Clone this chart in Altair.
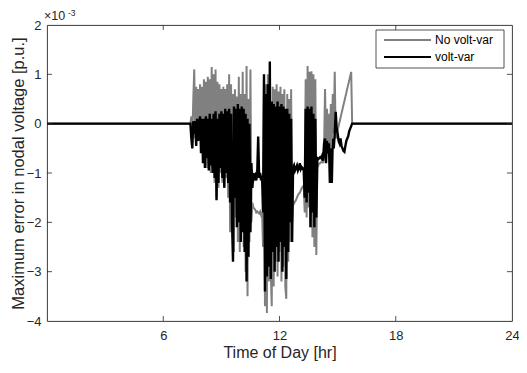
import altair as alt
import pandas as pd

# sampling grid of the active (daytime) period, hours
t_start = 7.40
t_step = 0.05

# Maximum error in nodal voltage, units of 1e-3 p.u. (None = no sample)
no_volt_var = [
    0.0, 0.15, -0.3, 0.5, 1.1,
    -0.3, 0.75, -0.2, 0.7, -0.3,
    0.8, -0.4, 0.75, -0.5, 0.9,
    -0.7, 0.85, -0.9, 0.95, -0.8,
    0.9, -1.0, 1.15, -0.9, 1.0,
    -1.2, 1.1, -1.5, 0.85, -1.3,
    0.8, -1.0, 0.7, -1.2, 0.75,
    -1.3, 0.7, -1.1, 0.8, -1.5,
    1.0, -2.2, 0.8, -2.0, 0.6,
    -2.6, 0.7, -1.9, 0.55, -2.4,
    0.95, -2.6, 0.6, -2.2, 1.05,
    -2.5, 0.6, -3.0, 1.17, -3.5,
    0.5, -2.4, 1.1, -2.0, -1.6,
    -1.7, -1.72, -1.75, -1.8, -1.78,
    -1.8, -1.82, -1.78, -1.85, -1.8,
    -2.5, 0.9, -3.7, 0.8, -3.84,
    1.0, -3.2, 0.8, -3.0, -3.7,
    0.75, -3.3, 0.7, -2.8, 0.8,
    -3.1, 0.65, -2.6, 0.75, -3.2,
    0.6, -2.9, 0.7, -3.3, -3.55,
    0.6, -2.8, 0.5, -2.4, 0.7,
    -2.0, -1.6, -1.62, -1.58, -1.55,
    -1.5, -1.45, -1.42, -1.4, -1.35,
    -1.3, -1.28, -1.25, -1.8, 0.9,
    -1.9, 1.17, -1.7, 1.05, -2.1,
    1.06, -2.3, 1.0, -2.5, 0.9,
    -2.66, -0.9, -0.85, -0.8, -0.8,
    -0.78, -0.75, -0.8, -0.5, 0.7,
    -0.4, 0.3, -0.5, 0.2, -0.6,
    0.4, -0.3, 0.6, -0.2, 1.05,
    -0.3, None, None, None, None,
    None, None, None, None, None,
    None, None, None, None, None,
    None, 1.05, 0.0, 0.0, 0.0,
    0.0,
]

volt_var = [
    0.0, -0.3, -0.5, 0.05, -0.2,
    0.05, -0.45, 0.1, -0.35, -0.05,
    0.15, -0.6, 0.1, -0.8, 0.1,
    -0.9, 0.15, -0.7, 0.1, -0.95,
    0.2, -0.85, 0.1, -1.0, 0.2,
    -1.1, 0.25, -1.55, 0.1, -1.2,
    0.2, -0.9, 0.25, -1.1, 0.2,
    -1.3, 0.3, -1.0, 0.25, -1.2,
    0.3, -1.6, 0.2, -2.0, -2.8,
    0.35, -1.5, 0.3, -2.1, 0.4,
    -2.0, 0.3, -2.4, 0.35, -2.2,
    0.3, -2.6, 0.2, -3.2, 0.1,
    -2.7, 0.0, -2.2, -0.8, -1.3,
    -1.0, -1.1, -1.05, -1.15, -1.0,
    -0.26, -1.1, -1.0, -1.15, -1.05,
    -1.8, 1.0, -3.4, 0.6, -3.1,
    0.8, -2.9, 1.26, -3.15, 0.45,
    -2.6, 0.4, -3.0, 0.35, -2.5,
    0.45, -2.8, 0.35, -2.4, 0.4,
    -3.0, 0.35, -2.5, 0.3, -3.15,
    0.3, -2.6, 0.2, -2.0, 0.1,
    -2.4, -0.9, -0.85, -0.95, -0.9,
    -0.85, -0.95, -0.9, -0.8, -0.92,
    -0.88, -0.9, -0.95, -1.5, 0.3,
    -1.6, 0.35, -1.4, 0.3, -2.1,
    0.35, -1.8, 0.2, -2.1, 0.1,
    -1.9, -0.7, -0.72, -0.7, -0.68,
    -0.7, -0.65, -0.75, -0.4, -0.3,
    -0.8, -0.35, -0.6, -0.4, -1.2,
    -0.5, -1.2, -0.3, -0.5, -0.2,
    0.24, -0.1, -0.2, -0.35, -0.4,
    -0.3, -0.45, -0.5, -0.55, -0.57,
    -0.45, -0.35, -0.3, -0.25, -0.15,
    -0.1, -0.05, 0.0, 0.0, 0.0,
    0.0,
]

series_names = ["No volt-var", "volt-var"]
series_colors = ["#808080", "#000000"]
x_ticks = [6, 12, 18, 24]
y_ticks = [-4, -3, -2, -1, 0, 1, 2]
day_start, day_end = 0, 24

FONT = "Liberation Sans"
INK = "#262626"


def frame(values, name):
    rows = [(day_start, 0.0)]
    for i, v in enumerate(values):
        if v is not None:
            rows.append((round(t_start + i * t_step, 2), v))
    rows.append((day_end, 0.0))
    df = pd.DataFrame(rows, columns=["t", "v"])
    df["series"] = name
    return df


df_nvv = frame(no_volt_var, series_names[0])
df_vv = frame(volt_var, series_names[1])

W, H = 465, 296
xs = alt.Scale(domain=[0, 24], nice=False, zero=False)
ys = alt.Scale(domain=[-4, 2], nice=False, zero=False)

x_enc = alt.X("t:Q", scale=xs,
              axis=alt.Axis(values=x_ticks, ticks=False, grid=False, domain=False,
                            title="Time of Day [hr]", labelPadding=8, titlePadding=2,
                            labelFontSize=13, titleFontSize=16, labelFlush=False))
y_enc = alt.Y("v:Q", scale=ys,
              axis=alt.Axis(values=y_ticks, ticks=False, grid=False, domain=False,
                            title="Maximum error in nodal voltage [p.u.]",
                            labelPadding=6, titlePadding=0, labelFontSize=13,
                            titleFontSize=16.5))

color_scale = alt.Scale(domain=series_names, range=series_colors)

gray_line = alt.Chart(df_nvv).mark_line(strokeWidth=2, strokeJoin="miter").encode(
    x=x_enc, y=y_enc,
    color=alt.Color("series:N", scale=color_scale, legend=None),
)
black_line = alt.Chart(df_vv).mark_line(strokeWidth=2.4, strokeJoin="miter").encode(
    x=alt.X("t:Q", scale=xs), y=alt.Y("v:Q", scale=ys),
    color=alt.Color("series:N", scale=color_scale, legend=None),
)

# inward tick marks (MATLAB box style)
xt = pd.DataFrame({"x": x_ticks[:-1]})
yt = pd.DataFrame({"y": y_ticks[1:-1]})
tick_len_x = 0.26   # hours
tick_len_y = 0.1    # 1e-3 units
xt["lo0"], xt["lo1"] = -4, -4 + tick_len_y
xt["hi0"], xt["hi1"] = 2, 2 - tick_len_y
yt["l0"], yt["l1"] = 0, tick_len_x
yt["r0"], yt["r1"] = 24, 24 - tick_len_x

tick_kw = dict(color=INK, strokeWidth=0.8)
ticks = [
    alt.Chart(xt).mark_rule(**tick_kw).encode(x=alt.X("x:Q", scale=xs), y=alt.Y("lo0:Q", scale=ys), y2="lo1:Q"),
    alt.Chart(xt).mark_rule(**tick_kw).encode(x=alt.X("x:Q", scale=xs), y=alt.Y("hi0:Q", scale=ys), y2="hi1:Q"),
    alt.Chart(yt).mark_rule(**tick_kw).encode(y=alt.Y("y:Q", scale=ys), x=alt.X("l0:Q", scale=xs), x2="l1:Q"),
    alt.Chart(yt).mark_rule(**tick_kw).encode(y=alt.Y("y:Q", scale=ys), x=alt.X("r0:Q", scale=xs), x2="r1:Q"),
]

one = pd.DataFrame({"a": [0]})
exp_main = alt.Chart(one).mark_text(text="×10", align="left", baseline="alphabetic",
                                    font=FONT, fontSize=12.5, color=INK).encode(
    x=alt.value(-3), y=alt.value(-5))
exp_sup = alt.Chart(one).mark_text(text="-3", align="left", baseline="alphabetic",
                                   font=FONT, fontSize=8.5, color=INK).encode(
    x=alt.value(21), y=alt.value(-9))

# legend box
LX0, LX1, LY0, LY1 = 329, 457, 5, 43
leg_box = alt.Chart(one).mark_rect(fill="white", stroke=INK, strokeWidth=0.8).encode(
    x=alt.value(LX0), x2=alt.value(LX1), y=alt.value(LY0), y2=alt.value(LY1))
leg_items = []
for i, (name, col) in enumerate(zip(series_names, series_colors)):
    yy = 15 + i * 17
    leg_items.append(alt.Chart(one).mark_rule(color=col, strokeWidth=2.2).encode(
        x=alt.value(LX0 + 8), x2=alt.value(LX0 + 55), y=alt.value(yy)))
    leg_items.append(alt.Chart(one).mark_text(text=name, align="left", baseline="middle",
                                              font=FONT, fontSize=12, color="#000000").encode(
        x=alt.value(LX0 + 59), y=alt.value(yy)))

chart = alt.layer(gray_line, black_line, *ticks, exp_main, exp_sup, leg_box, *leg_items).properties(
    width=W, height=H,
    background="white",
    autosize=alt.AutoSizeParams(type="none"),
    padding={"left": 39, "top": 17, "right": 7, "bottom": 40},
).configure_view(stroke=INK, strokeWidth=0.9).configure_axis(
    labelFont=FONT, titleFont=FONT, labelColor=INK, titleColor=INK,
    titleFontWeight="normal",
)

chart.save("out.html", embed_options={"renderer": "svg", "actions": False})
